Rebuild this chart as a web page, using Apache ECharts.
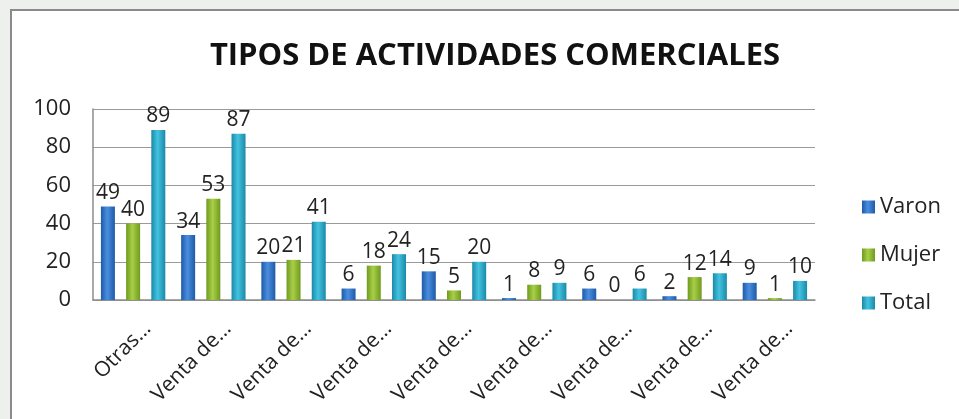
<!DOCTYPE html>
<html>
<head>
<meta charset="utf-8">
<script src="https://cdn.jsdelivr.net/npm/echarts@6/dist/echarts.min.js"></script>
<style>
  html, body { margin: 0; padding: 0; background: #eef0ed; }
  #chart { width: 959px; height: 419px; }
</style>
</head>
<body>
<div id="chart"></div>
<script>
const categories = ['Otras…', 'Venta de…', 'Venta de…', 'Venta de…', 'Venta de…', 'Venta de…', 'Venta de…', 'Venta de…', 'Venta de…'];
const varon = [49, 34, 20, 6, 15, 1, 6, 2, 9];
const mujer = [40, 53, 21, 18, 5, 8, 0, 12, 1];
const total = [89, 87, 41, 24, 20, 9, 6, 14, 10];
const yTicks = [0, 20, 40, 60, 80, 100];

const font = 'Open Sans';

// barras con sombreado tipo cilindro
const shade = (dark, light) => new echarts.graphic.LinearGradient(0, 0, 1, 0, [
  { offset: 0, color: dark },
  { offset: 0.45, color: light },
  { offset: 1, color: dark }
]);

const mkSeries = (name, data, dark, light) => ({
  name,
  type: 'bar',
  data,
  barWidth: 14,
  barGap: '80%',
  itemStyle: { color: shade(dark, light) },
  label: {
    show: true,
    position: 'top',
    distance: 3,
    color: '#222',
    fontFamily: font,
    fontSize: 21
  }
});

const myChart = echarts.init(document.getElementById('chart'));

const option = {
  animation: false,
  backgroundColor: '#eef0ed',
  graphic: [{
    type: 'rect',
    shape: { x: 11, y: 10, width: 980, height: 440 },
    style: { fill: '#ffffff', stroke: '#8a8a8a', lineWidth: 2 },
    z: -10
  }],
  title: {
    text: 'TIPOS DE ACTIVIDADES COMERCIALES',
    left: 490,
    textAlign: 'center',
    top: 36,
    textStyle: { fontFamily: font, fontWeight: 'bold', fontSize: 31, color: '#111' }
  },
  legend: {
    orient: 'vertical',
    left: 857,
    top: 191,
    itemWidth: 13,
    itemHeight: 13,
    itemGap: 26,
    icon: 'rect',
    textStyle: { fontFamily: font, fontSize: 22, color: '#222' },
    data: ['Varon', 'Mujer', 'Total']
  },
  grid: { left: 93, right: 144, top: 109, bottom: 119, containLabel: false },
  xAxis: {
    type: 'category',
    data: categories,
    axisTick: { show: false },
    axisLine: { lineStyle: { color: '#8c8c8c', width: 1.5 } },
    axisLabel: {
      rotate: 45,
      interval: 0,
      margin: 11,
      verticalAlign: 'top',
      padding: [10, 0, 0, 0],
      color: '#222',
      fontFamily: font,
      fontSize: 21
    }
  },
  yAxis: {
    type: 'value',
    min: 0,
    max: 100,
    interval: 20,
    axisLine: { show: true, lineStyle: { color: '#8c8c8c', width: 1.5 } },
    splitLine: { lineStyle: { color: '#9a9a9a', width: 1.2 } },
    axisLabel: {
      margin: 22,
      color: '#222',
      fontFamily: font,
      fontSize: 22,
      formatter: v => yTicks.includes(v) ? String(v) : ''
    }
  },
  series: [
    mkSeries('Varon', varon, '#1f5aa6', '#4a8ee0'),
    mkSeries('Mujer', mujer, '#6f9a1e', '#a8cf48'),
    mkSeries('Total', total, '#1a8aa8', '#44c2e0')
  ]
};

myChart.setOption(option);
</script>
</body>
</html>
